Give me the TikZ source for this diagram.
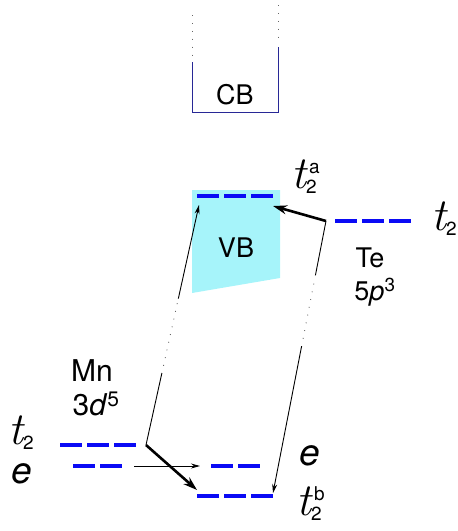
\documentclass[tikz,border=0pt]{standalone}
\usepackage{fontspec}
\setmainfont{TeX Gyre Heros}
\newfontfamily\lmr{Latin Modern Roman}
\usetikzlibrary{arrows.meta,calc}
\definecolor{vbcol}{RGB}{166,244,250}
\definecolor{navyband}{RGB}{40,40,150}
\definecolor{lev}{RGB}{10,10,245}
\newcommand\orbsym[2]{{\fontsize{46}{46}\selectfont\lmr\itshape t}\makebox[0pt][l]{\kern3pt\raisebox{15pt}{\fontsize{19}{19}\selectfont #2}}\raisebox{-5pt}{\fontsize{19}{19}\selectfont #1}}
\begin{document}
\begin{tikzpicture}[x=1pt,y=-1pt,
 level/.style={lev, line width=3.6pt, dash pattern=on 22pt off 5pt},
 band/.style={draw=navyband, line width=1pt},
 dotline/.style={line width=0.9pt, dash pattern=on 0.9pt off 7pt, black!60},
 thinline/.style={line width=0.9pt},
 thinarrow/.style={line width=0.9pt, -{Stealth[length=9pt,width=5pt]}},
 thickarrow/.style={line width=2.6pt, -{Stealth[length=14pt,width=9pt]}},
 txt/.style={inner sep=0pt, font=\fontsize{27}{27}\selectfont},
 mntxt/.style={inner sep=0pt, font=\fontsize{30}{30}\selectfont},
 orb/.style={inner sep=0pt, anchor=base west},
 elab/.style={inner sep=0pt, anchor=base west, font=\fontsize{37}{37}\selectfont\itshape},
]
\useasboundingbox (0,0) rectangle (458,531);
% bands
\fill[vbcol] (192,190) -- (280,190) -- (280,278) -- (192,293) -- cycle;
\draw[band] (192,62) -- (192,112) -- (278,112) -- (278,47);
\draw[dotline] (192,15) -- (192,58);
\draw[dotline] (278,5) -- (278,44);
\node[txt] (cb) at (235,95) {CB};
\node[txt] (vb) at (236,248) {VB};
% level end points
\coordinate (a1) at (197,196); \coordinate (a2) at (274,196);
\coordinate (te1) at (335,221); \coordinate (te2) at (412,221);
\coordinate (m1) at (60,445); \coordinate (m2) at (136,445);
\coordinate (me1) at (73,466); \coordinate (me2) at (123,466);
\coordinate (e1) at (211,466); \coordinate (e2) at (260,466);
\coordinate (b1) at (197,496); \coordinate (b2) at (274,496);
\draw[level] (a1) -- (a2);
\draw[level] (te1) -- (te2);
\draw[level] (m1) -- (m2);
\draw[level] (me1) -- (me2);
\draw[level] (e1) -- (e2);
\draw[level] (b1) -- (b2);
% vertices and tips
\coordinate (mv) at (146,445);
\coordinate (tv) at (326,221);
\coordinate (tipMa) at (199,205);
\coordinate (tipMb) at (197,490);
\coordinate (tipTa) at (273,206);
\coordinate (tipTb) at (273,493);
\coordinate (hs) at (134,466);
\coordinate (he) at (200,466);
% Mn connectors
\draw[thinline] (mv) -- ($(mv)!0.30!(tipMa)$);
\draw[dotline] ($(mv)!0.33!(tipMa)$) -- ($(mv)!0.60!(tipMa)$);
\draw[thinarrow] ($(mv)!0.61!(tipMa)$) -- (tipMa);
\draw[thickarrow] (mv) -- (tipMb);
\draw[thinarrow] (hs) -- (he);
% Te connectors
\draw[thickarrow] (tv) -- (tipTa);
\draw[thinline] (tv) -- ($(tv)!0.20!(tipTb)$);
\draw[dotline] ($(tv)!0.23!(tipTb)$) -- ($(tv)!0.45!(tipTb)$);
\draw[thinarrow] ($(tv)!0.46!(tipTb)$) -- (tipTb);
% labels
\node[orb] (lta) at (291,188) {\orbsym{2}{a}};
\node[orb] (ltte) at (431,230) {\orbsym{2}{}};
\node[txt] (te) at (370,258) {Te};
\node[txt] (tep) at (375,292) {5\textit{p}\textsuperscript{3}};
\node[mntxt] (mn) at (92,371) {Mn};
\node[mntxt] (mnd) at (96,404) {3\textit{d}\textsuperscript{5}};
\node[orb] (ltm) at (8,444) {\orbsym{2}{}};
\node[elab] (lem) at (11,483) {e};
\node[elab] (ler) at (299,465) {e};
\node[orb] (ltb) at (296,515) {\orbsym{2}{b}};
\end{tikzpicture}
\end{document}
